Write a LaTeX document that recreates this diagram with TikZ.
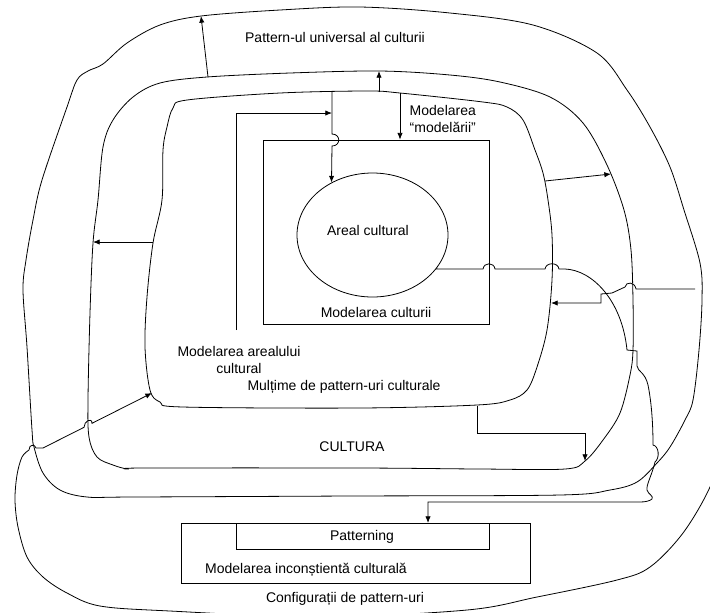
\documentclass[tikz,border=0pt]{standalone}
\usepackage{fontspec}
\setmainfont{Liberation Sans}
\usetikzlibrary{arrows.meta, positioning, shapes.geometric, fit}

\begin{document}
\begin{tikzpicture}[
    x=0.75pt, y=-0.75pt,
    line width=0.6pt,
    every node/.style={font=\fontsize{10.5}{12.8}\selectfont},
    box/.style={draw, inner sep=0pt},
    lbl/.style={inner sep=1pt},
    arr/.style={-{Latex[length=5pt, width=4pt]}},
    blob/.style={smooth cycle, tension=0.55}
  ]
    \useasboundingbox (0,0) rectangle (710,612);

    \draw plot[blob] coordinates {(201,16) (280,10) (360,7) (450,13) (533,25) (597,53) (627,90) (650,127)
      (670,167) (684,210) (700,263) (702,300) (699,350) (693,400) (685,420) (670,447) (657,463) (637,482)
      (610,490) (560,495) (350,496) (133,497) (87,497) (60,490) (43,473) (34,447) (32,430) (27,347)
      (23,290) (26,260) (33,220) (42,180) (67,107) (77,80) (88,71) (103,64) (127,43) (160,25)};
    \draw plot[blob] coordinates {(207,77) (290,73) (380,71) (450,75) (500,82) (550,97) (583,123) (607,165)
      (624,210) (631,250) (633,300) (633,350) (630,375) (620,413) (603,440) (585,461) (565,469) (480,469)
      (360,468) (143,468) (128,469) (113,465) (97,457) (89,437) (88,400) (90,313) (93,243) (98,200)
      (103,147) (113,120) (133,97) (160,83)};
    \draw plot[blob] coordinates {(187,100) (280,93) (367,91) (400,93) (483,102) (507,107) (523,120)
      (535,150) (543,173) (548,200) (552,235) (552,280) (547,330) (537,367) (527,390) (510,400) (477,405)
      (360,408) (183,407) (160,402) (150,390) (145,347) (147,297) (153,243) (162,200) (163,150) (167,127)
      (173,108)};
    \draw plot[smooth, tension=0.55] coordinates {(725,440) (710,487) (683,533) (650,567) (617,580) (537,597)
      (467,610) (320,617) (170,611) (100,606) (67,593) (43,577) (27,557) (18,527) (15,500) (17,475)
      (22,457) (29,450)} .. controls (29,444) and (35,444) .. (36,448) -- (43,448);

    \node[box, fit={(263,140) (489,324)}] (cult) {};
    \node[draw, ellipse, minimum width=113.25pt, minimum height=93pt, inner sep=0pt] (areal) at (372.5,235) {};
    \node[box, fit={(181,523) (530,583)}] (incon) {};
    \node[box, fit={(236,523) (489,549)}] (patt) {};

    \node[lbl] (tUniv) at (335,37) {Pattern-ul universal al culturii};
    \node[lbl, anchor=west, align=left] (tModMod) at (408,119) {Modelarea\\“modelării”};
    \node[lbl] (tAreal) at (368,230) {Areal cultural};
    \node[lbl] (tCult) at (376,312) {Modelarea culturii};
    \node[lbl, align=center] (tModAr) at (239,360) {Modelarea arealului\\cultural};
    \node[lbl] (tMult) at (344,387) {Mulțime de pattern-uri culturale};
    \node[lbl] (tCultura) at (352,447) {CULTURA};
    \node[lbl] (tPatt) at (362,537) {Patterning};
    \node[lbl] (tIncon) at (306,570) {Modelarea inconștientă culturală};
    \node[lbl] (tConf) at (345,599) {Configurații de pattern-uri};

    \coordinate (cfgEnd) at (43,448);
    \coordinate (inSW) at (152,393);
    \coordinate (culTop) at (208,77);
    \coordinate (uniTop) at (201,16);
    \coordinate (inTop) at (379,92);
    \coordinate (culTop2) at (379,71);
    \coordinate (inTop2) at (400,93);
    \coordinate (inTop3) at (332,92);
    \coordinate (inE) at (545,181);
    \coordinate (culE) at (611,174);
    \coordinate (inW) at (153,242);
    \coordinate (culW) at (93,242);
    \coordinate (inS) at (477,406);
    \coordinate (culS) at (585,461);
    \coordinate (uniE) at (695,289);
    \coordinate (inE2) at (551,303);
    \coordinate (arStart) at (236,330);
    \coordinate (arEnd) at (332,113);
    \coordinate (pattIn) at (428,523);

    \draw[arr] (culTop) -- (uniTop);
    \draw[arr] (inTop) -- (culTop2);
    \draw[arr] (inTop2) -- (inTop2 |- cult.north);
    \draw[arr] (inE) -- (culE);
    \draw[arr] (inW) -- (culW);
    \draw[arr] (inS) |- (585,433) -- (culS);
    \draw[arr] (arStart) |- (arEnd);
    \draw[arr] (inTop3) -- (332,134) .. controls (341,134) and (341,146) .. (332,146) -- (areal.128);
    \draw[arr] (cfgEnd) -- (84,427.3) .. controls (84,421) and (92,417) .. (92,423.3) -- (inSW);
    \draw[arr] (uniE) -- (636,289) .. controls (635,282) and (626,281) .. (625,287) -- (612,293)
      -- (601,294) -- (601,303) -- (inE2);
    \draw[arr] (areal.-28) -- (483,269) .. controls (484,262) and (494,262) .. (495,269) -- (545,269)
      .. controls (546,262) and (558,262) .. (559,269) -- (565,269)
      .. controls (592,270) and (622,300) .. (627,350) -- (637,351) -- (637,366)
      .. controls (638,372) and (645,372) .. (648,385) .. controls (651,400) and (653,420) .. (653,445)
      .. controls (659,446) and (660,458) .. (655,462) .. controls (652,475) and (646,485) .. (647,490)
      .. controls (648,494) and (654,496) .. (652,499) .. controls (650,501) and (645,502) .. (640,502)
      -- (428,502) -- (pattIn);
\end{tikzpicture}
\end{document}
